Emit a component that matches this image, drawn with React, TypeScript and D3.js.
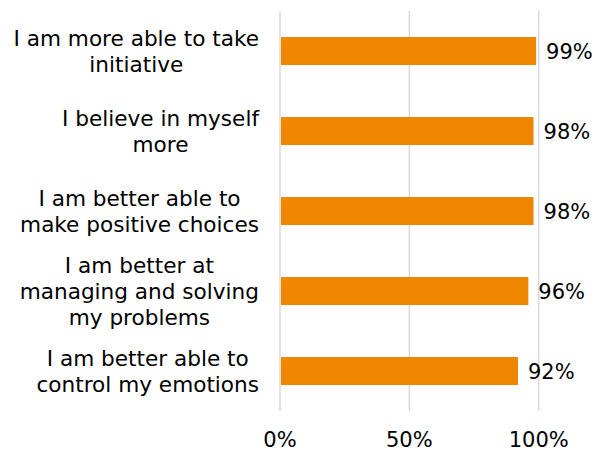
import React, { useEffect, useRef } from "react";
import * as d3 from "d3";

const categories: string[][] = [
  ["I am more able to take", "initiative"],
  ["I believe in myself", "more"],
  ["I am better able to", "make positive choices"],
  ["I am better at", "managing and solving", "my problems"],
  ["I am better able to", "control my emotions"],
];
const values: number[] = [0.99, 0.98, 0.98, 0.96, 0.92];
const valueLabels: string[] = ["99%", "98%", "98%", "96%", "92%"];
const ticks: number[] = [0, 0.5, 1];

const W = 595;
const H = 451;
const FONT = "DejaVu Sans, Verdana, sans-serif";
const FS = 21;
const CAT_FS = 21.6;

export default function App() {
  const ref = useRef<SVGSVGElement>(null);

  useEffect(() => {
    const svg = d3.select(ref.current);
    svg.selectAll("*").remove();

    const x = d3.scaleLinear().domain([0, 1]).range([280, 538.7]);
    const y = d3
      .scaleBand<number>()
      .domain(d3.range(values.length))
      .range([11, 411])
      .paddingInner(0.65)
      .paddingOuter(0.325);

    svg
      .append("g")
      .selectAll("line")
      .data(ticks)
      .join("line")
      .attr("x1", (d) => x(d))
      .attr("x2", (d) => x(d))
      .attr("y1", 11)
      .attr("y2", 411)
      .attr("stroke", "#d9d9d9")
      .attr("stroke-width", 1.5);

    svg
      .append("g")
      .selectAll("rect")
      .data(values)
      .join("rect")
      .attr("x", x(0) + 1)
      .attr("y", (_, i) => y(i)!)
      .attr("width", (d) => x(d) - x(0) - 1)
      .attr("height", y.bandwidth())
      .attr("fill", "#ee8600");

    svg
      .append("g")
      .selectAll("text")
      .data(values)
      .join("text")
      .attr("x", (d) => x(d) + 10)
      .attr("y", (_, i) => y(i)! + y.bandwidth() / 2)
      .attr("dy", "0.36em")
      .attr("font-family", FONT)
      .attr("font-size", FS)
      .attr("fill", "#000")
      .text((_, i) => valueLabels[i]);

    svg
      .append("g")
      .selectAll("text")
      .data(ticks)
      .join("text")
      .attr("x", (d) => x(d))
      .attr("y", 447)
      .attr("text-anchor", "middle")
      .attr("font-family", FONT)
      .attr("font-size", FS)
      .attr("fill", "#000")
      .text((d) => d3.format(".0%")(d));

    const lineH = 26;
    const rightEdge = 259;
    categories.forEach((lines, i) => {
      const cy = y(i)! + y.bandwidth() / 2;
      const g = svg.append("g");
      const t = g
        .append("text")
        .attr("font-family", FONT)
        .attr("font-size", CAT_FS)
        .attr("fill", "#000")
        .attr("text-anchor", "middle");
      const n = lines.length;
      const spans = t
        .selectAll("tspan")
        .data(lines)
        .join("tspan")
        .attr("y", (_, k) => cy + (k - (n - 1) / 2) * lineH)
        .attr("dy", "0.36em")
        .text((d) => d);
      let maxW = 0;
      spans.each(function () {
        const w = (this as SVGTSpanElement).getComputedTextLength();
        if (w > maxW) maxW = w;
      });
      spans.attr("x", rightEdge - maxW / 2);
    });
  }, []);

  return (
    <svg
      ref={ref}
      width={W}
      height={H}
      style={{ position: "absolute", left: 0, top: 0, background: "#fff" }}
    />
  );
}
